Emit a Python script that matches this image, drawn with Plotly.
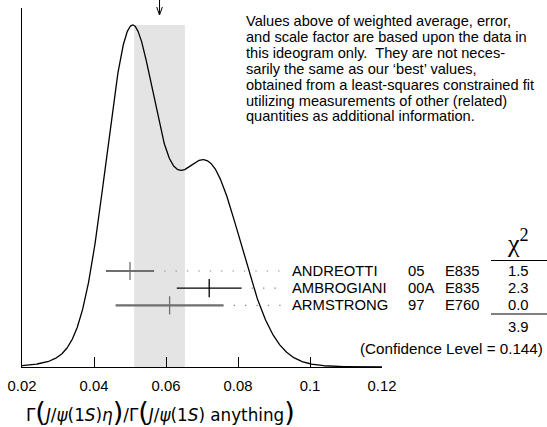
import numpy as np
import plotly.graph_objects as go

# ---------------- data ----------------
authors = ["ANDREOTTI", "AMBROGIANI", "ARMSTRONG"]
years = ["05", "00A", "97"]
experiments = ["E835", "E835", "E760"]
values = [0.050, 0.072, 0.061]
errors = [0.0067, 0.0090, 0.0150]
chi2_labels = ["1.5", "2.3", "0.0"]
chi2_total = "3.9"
confidence_level = "0.144"
tick_values = [0.02, 0.04, 0.06, 0.08, 0.10, 0.12]
tick_labels = ["0.02", "0.04", "0.06", "0.08", "0.1", "0.12"]
note_lines = [
    "Values above of weighted average, error,",
    "and scale factor are based upon the data in",
    "this ideogram only.\u00a0 They are not neces-",
    "sarily the same as our \u2018best\u2019 values,",
    "obtained from a least-squares constrained fit",
    "utilizing measurements of other (related)",
    "quantities as additional information.",
]
bar_styles = {"ANDREOTTI": "grey", "AMBROGIANI": "black", "ARMSTRONG": "grey"}

# ---------------- layout geometry ----------------
W, H = 547, 427
ML, MR, MT, MB = 22, 165, 8, 60
PW = W - ML - MR
PH = H - MT - MB
AXIS_Y = H - MB
XMIN, XMAX = tick_values[0], tick_values[-1]
FONT = "Liberation Sans, Arial, sans-serif"
FS = 14.8


def px_x(px):
    return (px - ML) / PW


def px_y(py):
    return (AXIS_Y - py) / PH


def dx_from_px(n):
    return n * (XMAX - XMIN) / PW


# ---------------- derived quantities ----------------
v = np.array(values)
e = np.array(errors)
w = 1.0 / e**2
mean = float(np.sum(w * v) / np.sum(w))
err = 1.0 / np.sqrt(np.sum(w))
chi2 = float(np.sum(((v - mean) / e) ** 2))
scale = np.sqrt(chi2 / (len(v) - 1)) if chi2 > len(v) - 1 else 1.0
err_s = float(err * scale)

xs = np.linspace(XMIN, XMAX, 1001)
ideo = np.zeros_like(xs)
for vi, ei in zip(v, e):
    ideo += (1.0 / ei) * np.exp(-0.5 * ((xs - vi) / ei) ** 2) / (ei * np.sqrt(2 * np.pi))
peak = float(ideo.max())
PEAK_PX = 25
y_top = peak * PH / (AXIS_Y - PEAK_PX)

# rows axis (y2)
ROW0_PX = 271.0
ROW_STEP = 17.2
y2_top = (ROW0_PX - MT) / ROW_STEP
y2_bot = -(AXIS_Y - ROW0_PX) / ROW_STEP

fig = go.Figure()

# ideogram curve
fig.add_trace(go.Scatter(x=xs, y=ideo, mode="lines",
                         line=dict(color="black", width=1.3), hoverinfo="skip"))

LABEL_PX = 290
label_data_x = XMIN + dx_from_px(LABEL_PX - ML)
for i, (a, vi, ei) in enumerate(zip(authors, values, errors)):
    col = "#6f6f6f" if bar_styles[a] == "grey" else "black"
    thick = 2.2 if bar_styles[a] == "grey" else 1.2
    # dotted leader
    fig.add_trace(go.Scatter(x=[vi + ei + dx_from_px(10), label_data_x - dx_from_px(6)],
                             y=[-i, -i], yaxis="y2", mode="lines",
                             line=dict(color="#8a8a8a", width=1.2, dash="1.4px,10px"),
                             hoverinfo="skip"))
    fig.add_trace(go.Scatter(x=[vi], y=[-i], yaxis="y2", mode="markers",
                             marker=dict(symbol="line-ns", size=13,
                                         line=dict(color=col, width=1.3)),
                             error_x=dict(type="data", array=[ei], color=col,
                                          thickness=thick, width=0),
                             hoverinfo="skip"))

shapes = []
# band
shapes.append(dict(type="rect", xref="x", yref="y", x0=mean - err_s, x1=mean + err_s,
                   y0=0, y1=peak, fillcolor="#e4e4e4", line=dict(width=0), layer="below"))
# arrow
shapes.append(dict(type="path", xref="x", yref="paper", xsizemode="pixel", xanchor=mean,
                   path=f"M0,{px_y(0)} L0,{px_y(15)} M-2.8,{px_y(7)} L0,{px_y(15)} L2.8,{px_y(7)}",
                   line=dict(color="black", width=1)))
# chi2 underlines
for ypx in (260.5, 314):
    shapes.append(dict(type="line", xref="paper", yref="paper", x0=px_x(491), x1=px_x(547),
                       y0=px_y(ypx), y1=px_y(ypx), line=dict(color="black", width=1)))

annotations = []
for k, line in enumerate(note_lines):
    annotations.append(dict(xref="paper", yref="paper", x=px_x(244), y=px_y(21.5 + 15.8 * k),
                            xanchor="left", yanchor="middle", text=line, showarrow=False,
                            font=dict(family=FONT, size=14.6, color="black")))

CHI_X = 518
for i in range(len(authors)):
    for txt, xp, anchor in ((authors[i], LABEL_PX, "left"), (years[i], 406, "left"),
                            (experiments[i], 443, "left"), (chi2_labels[i], CHI_X, "center")):
        annotations.append(dict(xref="paper", yref="y2", x=px_x(xp), y=-i, text=txt,
                                xanchor=anchor, yanchor="middle", showarrow=False,
                                font=dict(family=FONT, size=FS, color="black")))

annotations.append(dict(xref="paper", yref="paper", x=px_x(CHI_X), y=px_y(260),
                        text="\u03c7<sup>2</sup>", showarrow=False, xanchor="center", yanchor="bottom",
                        font=dict(family="Liberation Serif, serif", size=26, color="black")))
annotations.append(dict(xref="paper", yref="paper", x=px_x(CHI_X), y=px_y(327),
                        text=chi2_total, showarrow=False, xanchor="center", yanchor="middle",
                        font=dict(family=FONT, size=FS, color="black")))
annotations.append(dict(xref="paper", yref="paper", x=px_x(545), y=px_y(348),
                        text=f"(Confidence Level = {confidence_level})", showarrow=False,
                        xanchor="right", yanchor="middle",
                        font=dict(family=FONT, size=15.2, color="black")))

BP = '<span style="font-size:27px">'
title = ("\u0393" + BP + "(</span><i>J</i>/<i>\u03c8</i>(1<i>S</i>)<i>\u03b7</i>" + BP + ")</span>"
         "/\u0393" + BP + "(</span><i>J</i>/<i>\u03c8</i>(1<i>S</i>) anything" + BP + ")</span>")
annotations.append(dict(xref="paper", yref="paper", x=px_x(24), y=px_y(412), text=title,
                        showarrow=False, xanchor="left", yanchor="middle",
                        font=dict(family="DejaVu Sans, sans-serif", size=16.8, color="black")))

fig.update_layout(
    width=W, height=H,
    margin=dict(l=ML, r=MR, t=MT, b=MB, pad=0),
    paper_bgcolor="white", plot_bgcolor="white",
    showlegend=False,
    shapes=shapes, annotations=annotations,
    xaxis=dict(range=[XMIN, XMAX], tickvals=tick_values, ticktext=tick_labels,
               ticks="inside", ticklen=10, tickwidth=1.2, tickcolor="black",
               showline=True, linecolor="black", linewidth=1.2, showgrid=False, zeroline=False,
               tickfont=dict(family=FONT, size=FS, color="black"), ticklabelstandoff=5),
    yaxis=dict(range=[0, y_top], showline=True, linecolor="black", linewidth=1.2,
               showticklabels=False, ticks="", showgrid=False, zeroline=False),
    yaxis2=dict(range=[y2_bot, y2_top], overlaying="y", visible=False),
)

fig.write_html("out.html", config={"displayModeBar": False},
               post_script="document.body.style.margin='0';document.body.style.overflow='hidden';")
